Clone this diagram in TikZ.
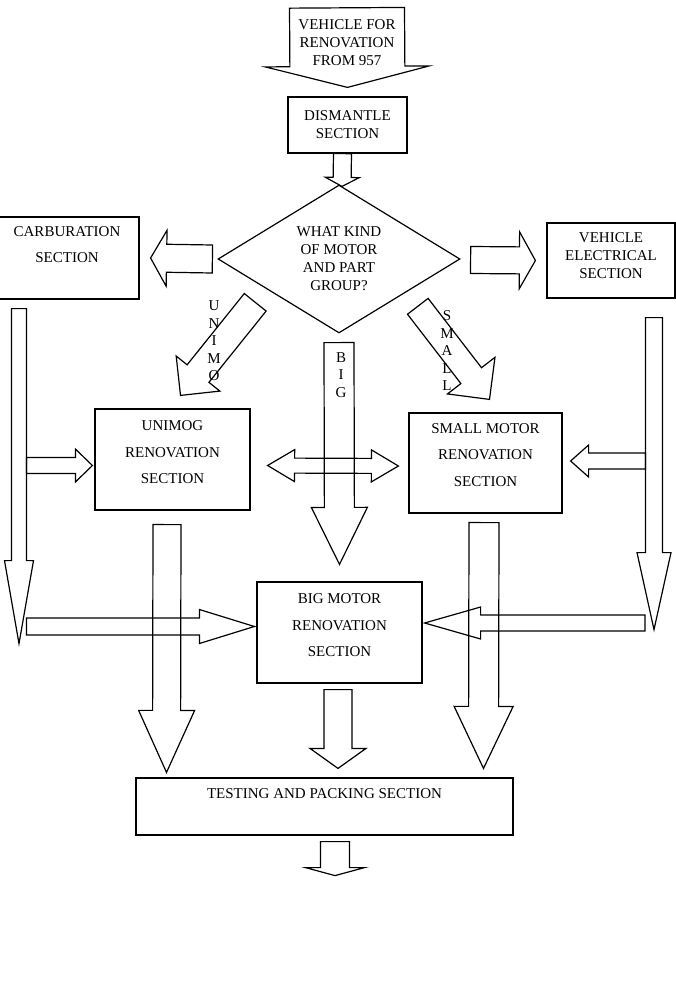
\documentclass[tikz,border=0pt]{standalone}
\usepackage{fontspec}
\setmainfont{Liberation Serif}
\usetikzlibrary{shapes.geometric, calc}
\tikzset{
    x=1pt, y=-1pt, % one unit is one pixel of the scan, y runs down
    section/.style={draw, line width=1.2pt, align=center, inner sep=0pt, font=\fontsize{15}{26.5}\selectfont}, % the section boxes
    tight/.style={font=\fontsize{15}{18}\selectfont}, % boxes with close lines
    question/.style={diamond, draw, line width=1.2pt, aspect=1.635, inner sep=0pt, align=center, minimum width=242pt, minimum height=148pt, font=\fontsize{15}{18}\selectfont},
    letters/.style={align=center, inner sep=0pt, font=\fontsize{15}{17.5}\selectfont}, % upright words on the arrows
    blockarrow/.style={draw, line width=1.2pt, line join=miter},
}
% fat arrow: tail, tip, half shaft, half head, head length
\newcommand{\fatarrow}[5]{%
    \coordinate (fa-a) at (#1);
    \coordinate (fa-b) at (#2);
    \coordinate (fa-h) at ($(fa-b)!#5!(fa-a)$);
    \draw[blockarrow] ($(fa-a)!#3!90:(fa-b)$) -- ($(fa-h)!#3!90:(fa-b)$) -- ($(fa-h)!#4!90:(fa-b)$) -- (fa-b)
        -- ($(fa-h)!#4!-90:(fa-b)$) -- ($(fa-h)!#3!-90:(fa-b)$) -- ($(fa-a)!#3!-90:(fa-b)$) -- cycle;
}
% same with a head on both ends
\newcommand{\dblarrow}[5]{%
    \coordinate (fa-a) at (#1);
    \coordinate (fa-b) at (#2);
    \coordinate (fa-g) at ($(fa-a)!#5!(fa-b)$);
    \coordinate (fa-h) at ($(fa-b)!#5!(fa-a)$);
    \draw[blockarrow] (fa-a) -- ($(fa-g)!#4!90:(fa-b)$) -- ($(fa-g)!#3!90:(fa-b)$) -- ($(fa-h)!#3!90:(fa-b)$)
        -- ($(fa-h)!#4!90:(fa-b)$) -- (fa-b) -- ($(fa-h)!#4!-90:(fa-b)$) -- ($(fa-h)!#3!-90:(fa-b)$)
        -- ($(fa-g)!#3!-90:(fa-b)$) -- ($(fa-g)!#4!-90:(fa-b)$) -- cycle;
}

\begin{document}
\begin{tikzpicture}
    \useasboundingbox (0,0) rectangle (676,993);

    \node[tight, align=center, inner sep=0pt, minimum height=70pt] at (347,43) (INPUT) {VEHICLE FOR\\RENOVATION\\FROM 957};
    \node[section, tight, minimum width=119pt, minimum height=56pt] at ([xshift=0.5pt,yshift=-82pt]INPUT) (DISMANTLE) {DISMANTLE\\SECTION};
    \node[question] at ([xshift=-8.5pt,yshift=-134pt]DISMANTLE) (QUESTION) {WHAT KIND\\OF MOTOR\\AND PART\\GROUP?};

    \node[section, minimum width=144pt, minimum height=82pt] at ([xshift=-272pt,yshift=1pt]QUESTION) (CARBURATION) {CARBURATION\\SECTION\\\mbox{}};
    \node[section, tight, minimum width=128pt, minimum height=75pt] at ([xshift=272pt,yshift=-1.5pt]QUESTION) (ELECTRICAL) {VEHICLE\\ELECTRICAL\\SECTION\\[-9pt]\mbox{}};

    \node[section, minimum width=155pt, minimum height=101pt] at ([xshift=-166.5pt,yshift=-200.5pt]QUESTION) (UNIMOG) {UNIMOG\\RENOVATION\\SECTION\\[-12pt]\mbox{}};
    \node[section, minimum width=153pt, minimum height=100pt] at ([xshift=146.5pt,yshift=-204pt]QUESTION) (SMALLMOTOR) {SMALL MOTOR\\RENOVATION\\SECTION\\[-10pt]\mbox{}};
    \node[section, minimum width=165pt, minimum height=101pt] at ([xshift=0.5pt,yshift=-373.5pt]QUESTION) (BIGMOTOR) {BIG MOTOR\\RENOVATION\\SECTION\\[-12pt]\mbox{}};

    \node[section, font=\fontsize{15}{26}\selectfont, minimum width=377pt, minimum height=57pt] at ([xshift=-15pt,yshift=-174pt]BIGMOTOR) (TESTING) {TESTING AND PACKING SECTION\\\mbox{}};

    \node[letters] at ([xshift=-125pt,yshift=-82pt]QUESTION) (UNILETTERS) {U\\N\\I\\M\\O};
    \node[letters] at ([xshift=108pt,yshift=-92pt]QUESTION) (SMALLLETTERS) {S\\M\\A\\L\\L};
    \node[letters] at ([xshift=2pt,yshift=-116pt]QUESTION) (BIGLETTERS) {B\\I\\G};

    \coordinate (CARBTOP) at ([xshift=-48pt,yshift=-9pt]CARBURATION.south);
    \coordinate (CARBOUT) at ([xshift=-48pt,yshift=-344pt]CARBURATION.south);
    \coordinate (ELECTOP) at ([xshift=43pt,yshift=-19pt]ELECTRICAL.south);
    \coordinate (ELECOUT) at ([xshift=43pt,yshift=-331pt]ELECTRICAL.south);
    \coordinate (TESTOUT) at ([xshift=10.5pt,yshift=-40pt]TESTING.south);

    \fatarrow{INPUT.north}{[yshift=9pt]DISMANTLE.north}{57.5pt}{82pt}{21pt}
    \fatarrow{[xshift=-5pt]DISMANTLE.south}{[xshift=3pt,yshift=-2pt]QUESTION.north}{9pt}{17pt}{9pt}

    \fatarrow{[xshift=-5pt]QUESTION.west}{[xshift=11pt]CARBURATION.east}{14pt}{28pt}{16pt}
    \fatarrow{[xshift=10pt,yshift=-1pt]QUESTION.east}{[xshift=-11pt]ELECTRICAL.west}{13.5pt}{28.5pt}{16pt}
    \fatarrow{[xshift=-23pt,yshift=-6pt]QUESTION.south west}{[xshift=8pt,yshift=13pt]UNIMOG.north}{14pt}{28pt}{28pt}
    \fatarrow{[xshift=18pt,yshift=-10pt]QUESTION.south east}{[xshift=4pt,yshift=13pt]SMALLMOTOR.north}{13pt}{30pt}{30pt}
    \fatarrow{[yshift=-9pt]QUESTION.south}{[yshift=17pt]BIGMOTOR.north}{15pt}{28pt}{57pt}

    \dblarrow{[xshift=17pt,yshift=-6pt]UNIMOG.east}{[xshift=-10pt,yshift=-3pt]SMALLMOTOR.west}{7.5pt}{16pt}{27pt}

    \fatarrow{CARBTOP}{CARBOUT}{7.5pt}{14.5pt}{83pt}
    \fatarrow{$(CARBTOP |- UNIMOG.west)+(7.5pt,-6pt)$}{[xshift=-2pt,yshift=-6pt]UNIMOG.west}{8pt}{16.5pt}{17pt}
    \fatarrow{$(CARBTOP |- BIGMOTOR.west)+(7.5pt,6pt)$}{[xshift=-2pt,yshift=6pt]BIGMOTOR.west}{8.5pt}{17pt}{55pt}

    \fatarrow{ELECTOP}{ELECOUT}{8.5pt}{17pt}{77pt}
    \fatarrow{$(ELECTOP |- SMALLMOTOR.east)+(-8.5pt,2pt)$}{[xshift=8pt,yshift=2pt]SMALLMOTOR.east}{8pt}{16pt}{18pt}
    \fatarrow{$(ELECTOP |- BIGMOTOR.east)+(-9pt,9.5pt)$}{[xshift=2pt,yshift=9.5pt]BIGMOTOR.east}{8pt}{16pt}{56pt}

    \fatarrow{[xshift=-5.5pt,yshift=-14pt]UNIMOG.south}{$(UNIMOG.south |- TESTING.north)+(-6pt,5pt)$}{14pt}{28pt}{62pt}
    \fatarrow{[xshift=-1.5pt,yshift=-9pt]SMALLMOTOR.south}{$(SMALLMOTOR.south |- TESTING.north)+(-2pt,9pt)$}{15pt}{29.5pt}{62pt}
    \fatarrow{[xshift=-1.5pt,yshift=-6pt]BIGMOTOR.south}{[xshift=13.5pt,yshift=9pt]TESTING.north}{14pt}{28pt}{20pt}

    \fatarrow{[xshift=10.5pt,yshift=-6pt]TESTING.south}{TESTOUT}{14.5pt}{29.5pt}{8pt}
\end{tikzpicture}
\end{document}
